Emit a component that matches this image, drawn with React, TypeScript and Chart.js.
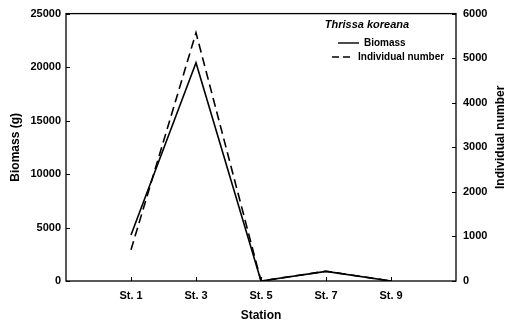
import { useEffect, useRef } from 'react';
import { Chart, registerables } from 'chart.js';

Chart.register(...registerables);

// Sampling stations (blank slots pad both ends of the axis)
const stations = ['', 'St. 1', 'St. 3', 'St. 5', 'St. 7', 'St. 9', ''];
// Biomass in grams per station
const biomass = [null, 4300, 20400, 0, 900, 0, null];
// Number of individuals per station
const individuals = [null, 700, 5570, 0, 220, 0, null];

const speciesName = 'Thrissa koreana';
const FONT = '"Liberation Sans", Arial, Helvetica, sans-serif';

const framePlugin = {
  id: 'frameAndTicks',
  afterDatasetsDraw(chart: any) {
    const { ctx, chartArea } = chart;
    const { left, right, top, bottom } = chartArea;
    ctx.save();
    ctx.strokeStyle = '#000';
    ctx.lineWidth = 1.3;
    ctx.strokeRect(left, top, right - left, bottom - top);
    ctx.lineWidth = 1;
    const seg = (x1: number, y1: number, x2: number, y2: number) => {
      ctx.beginPath();
      ctx.moveTo(x1, y1);
      ctx.lineTo(x2, y2);
      ctx.stroke();
    };
    const yl = chart.scales.y;
    yl.ticks.forEach((_t: any, i: number) => {
      const p = Math.round(yl.getPixelForTick(i)) + 0.5;
      seg(left, p, left + 4, p);
    });
    const yr = chart.scales.y2;
    yr.ticks.forEach((_t: any, i: number) => {
      const p = Math.round(yr.getPixelForTick(i)) + 0.5;
      seg(right - 4, p, right, p);
    });
    const xs = chart.scales.x;
    stations.forEach((s, i) => {
      if (!s) return;
      const p = Math.round(xs.getPixelForValue(i)) + 0.5;
      seg(p, bottom, p, bottom - 4);
    });
    ctx.restore();
  },
  afterDraw(chart: any) {
    const { ctx, chartArea } = chart;
    ctx.save();
    ctx.fillStyle = '#000';
    ctx.strokeStyle = '#000';

    // Right-hand axis title, reading bottom to top
    ctx.save();
    ctx.translate(501, (chartArea.top + chartArea.bottom) / 2 - 10);
    ctx.rotate(-Math.PI / 2);
    ctx.font = `bold 12px ${FONT}`;
    ctx.textAlign = 'center';
    ctx.textBaseline = 'middle';
    ctx.fillText('Individual number', 0, 0);
    ctx.restore();

    // Legend box
    ctx.font = `italic bold 11px ${FONT}`;
    ctx.textAlign = 'center';
    ctx.textBaseline = 'middle';
    ctx.fillText(speciesName, 367, 25);

    ctx.font = `bold 10px ${FONT}`;
    ctx.textAlign = 'left';
    ctx.lineWidth = 1.4;
    ctx.setLineDash([]);
    ctx.beginPath();
    ctx.moveTo(338, 43);
    ctx.lineTo(359, 43);
    ctx.stroke();
    ctx.fillText('Biomass', 364, 43);

    ctx.setLineDash([7, 4]);
    ctx.beginPath();
    ctx.moveTo(332, 57);
    ctx.lineTo(354, 57);
    ctx.stroke();
    ctx.setLineDash([]);
    ctx.fillText('Individual number', 358, 57);
    ctx.restore();
  },
};

export default function App() {
  const canvasRef = useRef<HTMLCanvasElement | null>(null);

  useEffect(() => {
    document.body.style.margin = '0';
    const canvas = canvasRef.current;
    if (!canvas) return;
    const tickFont = { family: FONT, size: 11, weight: 'bold' as const };
    const titleFont = { family: FONT, size: 12, weight: 'bold' as const };
    const chart = new Chart(canvas, {
      type: 'line',
      data: {
        labels: stations,
        datasets: [
          {
            label: 'Biomass',
            data: biomass,
            yAxisID: 'y',
            borderColor: '#000',
            borderWidth: 1.6,
            pointRadius: 0,
            tension: 0,
            fill: false,
            spanGaps: false,
          },
          {
            label: 'Individual number',
            data: individuals,
            yAxisID: 'y2',
            borderColor: '#000',
            borderWidth: 1.6,
            borderDash: [9, 5],
            pointRadius: 0,
            tension: 0,
            fill: false,
            spanGaps: false,
          },
        ],
      },
      options: {
        responsive: false,
        animation: false,
        layout: { padding: { top: 13, left: 0, right: 0, bottom: 0 } },
        plugins: { legend: { display: false }, tooltip: { enabled: false } },
        scales: {
          x: {
            type: 'category',
            offset: false,
            grid: { display: false, drawTicks: false },
            border: { display: false },
            ticks: {
              autoSkip: false,
              maxRotation: 0,
              color: '#000',
              font: tickFont,
              padding: 8,
            },
            title: {
              display: true,
              text: 'Station',
              color: '#000',
              font: titleFont,
              padding: { top: 0, bottom: 1 },
            },
            afterFit: (s: any) => {
              s.height = 43;
            },
          },
          y: {
            position: 'left',
            min: 0,
            max: 25000,
            grid: { display: false, drawTicks: false },
            border: { display: false },
            ticks: {
              stepSize: 5000,
              color: '#000',
              font: tickFont,
              padding: 5,
              callback: (v: any) => String(v),
            },
            title: {
              display: true,
              text: 'Biomass (g)',
              color: '#000',
              font: titleFont,
              padding: { top: 8, bottom: 0 },
            },
            afterFit: (s: any) => {
              s.width = 66;
            },
          },
          y2: {
            position: 'right',
            min: 0,
            max: 6000,
            grid: { display: false, drawTicks: false },
            border: { display: false },
            ticks: {
              stepSize: 1000,
              color: '#000',
              font: tickFont,
              padding: 7,
              callback: (v: any) => String(v),
            },
            afterFit: (s: any) => {
              s.width = 55;
            },
          },
        },
      },
      plugins: [framePlugin],
    });
    return () => chart.destroy();
  }, []);

  return (
    <div style={{ width: 511, height: 324, background: '#fff' }}>
      <canvas ref={canvasRef} width={511} height={324} />
    </div>
  );
}
